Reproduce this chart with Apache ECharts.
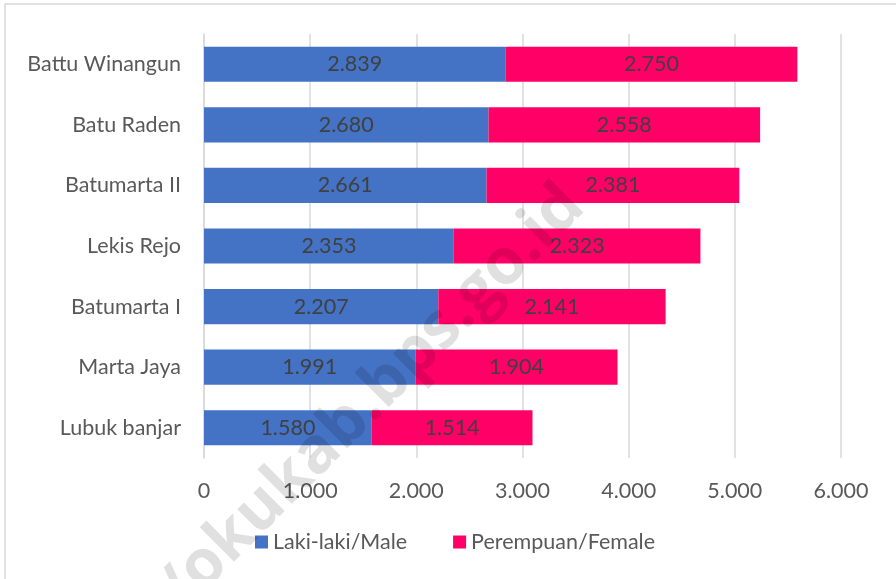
<!DOCTYPE html>
<html>
<head>
<meta charset="utf-8">
<script src="https://cdn.jsdelivr.net/npm/echarts@6/dist/echarts.min.js"></script>
<style>
  html, body { margin: 0; padding: 0; background: #fff; }
  #main { width: 896px; height: 579px; }
</style>
</head>
<body>
<div id="main"></div>
<script>
const categories = ['Lubuk banjar', 'Marta Jaya', 'Batumarta I', 'Lekis Rejo', 'Batumarta II', 'Batu Raden', 'Battu Winangun'];
const male = [1580, 1991, 2207, 2353, 2661, 2680, 2839];
const female = [1514, 1904, 2141, 2323, 2381, 2558, 2750];
const xTicks = [0, 1000, 2000, 3000, 4000, 5000, 6000];

const FONT = 'Lato';
const FS = 21.5;
// angka pakai titik sebagai pemisah ribuan
const fmt = v => String(v).replace(/\B(?=(\d{3})+(?!\d))/g, '.');

const myChart = echarts.init(document.getElementById('main'));
myChart.setOption({
    animation: false,
    textStyle: { fontFamily: FONT },
    grid: { left: 204, right: 55, top: 34, height: 424 },
    legend: {
        bottom: 21,
        left: 250,
        itemWidth: 13,
        itemHeight: 13,
        itemGap: 46,
        icon: 'rect',
        textStyle: { fontSize: FS, color: '#595959', fontFamily: FONT },
        data: ['Laki-laki/Male', 'Perempuan/Female']
    },
    xAxis: {
        type: 'value',
        min: 0,
        max: xTicks[xTicks.length - 1],
        interval: 1000,
        axisLine: { show: false },
        axisTick: { show: false },
        axisLabel: { fontSize: FS, color: '#595959', margin: 22, formatter: fmt },
        splitLine: { lineStyle: { color: '#d9d9d9', width: 1.5 } }
    },
    yAxis: {
        type: 'category',
        data: categories,
        axisLine: { lineStyle: { color: '#d9d9d9', width: 1.5 } },
        axisTick: { show: false },
        axisLabel: { fontSize: FS, color: '#595959', margin: 23 }
    },
    series: [
        {
            name: 'Laki-laki/Male',
            type: 'bar',
            stack: 'total',
            barWidth: '58%',
            itemStyle: { color: '#4472C4' },
            label: { show: true, position: 'inside', fontSize: FS, color: '#404040', formatter: p => fmt(p.value) },
            data: male
        },
        {
            name: 'Perempuan/Female',
            type: 'bar',
            stack: 'total',
            itemStyle: { color: '#FF0066' },
            label: { show: true, position: 'inside', fontSize: FS, color: '#404040', formatter: p => fmt(p.value) },
            data: female
        }
    ],
    graphic: [
        {
            type: 'rect',
            shape: { x: 5, y: 4, width: 900, height: 600 },
            style: { fill: 'none', stroke: '#d9d9d9', lineWidth: 1.5 },
            silent: true
        },
        {
            type: 'text',
            x: 574,
            y: 196,
            rotation: Math.PI / 4,
            z: 100,
            silent: true,
            style: {
                text: 'https://okukab.bps.go.id',
                font: 'bold 64px "Open Sans"',
                fill: 'rgba(0,0,0,0.12)',
                align: 'right',
                verticalAlign: 'middle'
            }
        }
    ]
});
</script>
</body>
</html>
